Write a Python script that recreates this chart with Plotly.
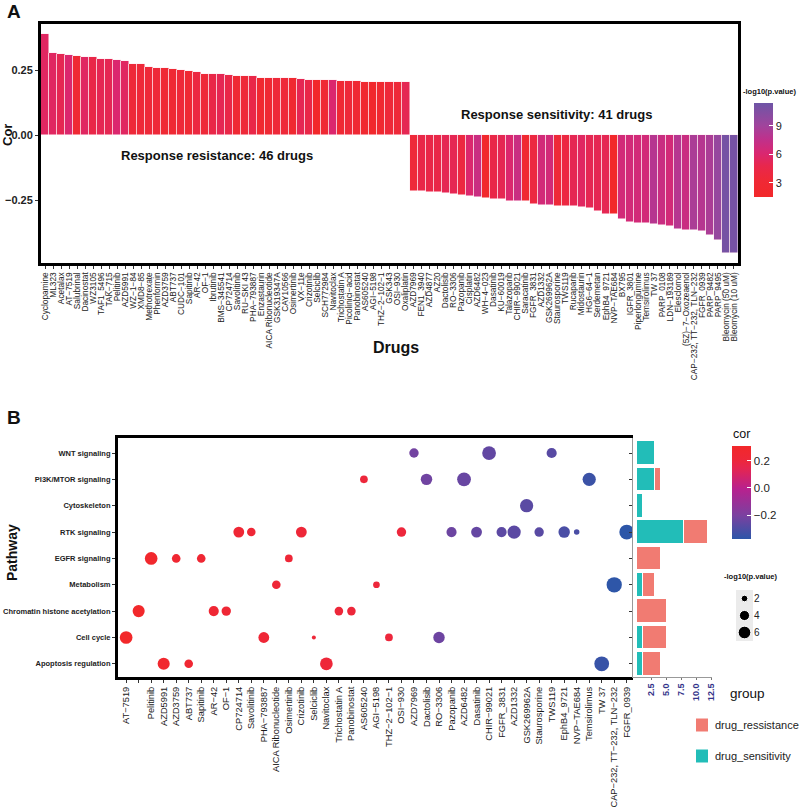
import numpy as np
import plotly.graph_objects as go

W, H = 800, 808
FONT = "Arial, 'Liberation Sans', Helvetica, sans-serif"

# ---------------- Panel A data ----------------
res_drugs = ["Cyclopamine", "ML323", "Acetalax", "AT-7519", "Salubrinal", "Dacinostat", "WZ3105",
             "TAF1_5496", "TAK-715", "Pelitinib", "AZD5991", "WZ-1-84", "XMD8-85", "Methotrexate",
             "Phenformin", "AZD3759", "ABT737", "CUDC-101", "Sapitinib", "AR-42", "OF-1", "Ibrutinib",
             "BMS-345541", "CP724714", "Savolitinib", "RU-SKI 43", "PHA-793887", "Enzastaurin",
             "AICA Ribonucleotide", "GSK319347A", "CAY10566", "Osimertinib", "VX-11e", "Crizotinib",
             "Selciclib", "SCH772984", "Navitoclax", "Trichostatin A", "Picolinici-acid", "Panobinostat",
             "AS605240", "AGI-5198", "THZ-2-102-1", "GSK343", "OSI-930", "Oxaliplatin"]
res_cor = [0.388, 0.317, 0.310, 0.309, 0.306, 0.300, 0.299, 0.292, 0.292, 0.288, 0.285, 0.274,
           0.272, 0.263, 0.259, 0.258, 0.254, 0.250, 0.245, 0.242, 0.236, 0.235, 0.235, 0.232,
           0.228, 0.227, 0.227, 0.221, 0.221, 0.219, 0.218, 0.218, 0.215, 0.214, 0.214, 0.213,
           0.212, 0.210, 0.210, 0.208, 0.206, 0.205, 0.204, 0.204, 0.203, 0.203]
res_logp = [5.5, 5.5, 5.0, 6.0, 3.0, 5.5, 4.5, 5.0, 5.0, 6.0, 5.5, 3.5, 3.5, 3.5, 3.5, 3.0, 3.0,
            3.5, 3.0, 4.0, 3.5, 4.5, 5.0, 4.5, 3.0, 3.5, 4.5, 2.5, 3.0, 3.5, 3.5, 2.5, 5.0, 4.5,
            1.0, 3.0, 6.0, 3.0, 3.5, 3.0, 2.5, 2.0, 2.5, 3.5, 3.5, 5.0]

sen_drugs = ["AZD7969", "FEN1_3940", "AZD4877", "AZ20", "Dactolisib", "RO-3306", "Pazopanib",
             "Cisplatin", "AZD6482", "WH-4-023", "Dasatinib", "KU-60019", "Talazoparib", "CHIR-99021",
             "Saracatinib", "FGFR_3831", "AZD1332", "GSK269962A", "Staurosporine", "TWS119",
             "Rucaparib", "Midostaurin", "HG6-64-1", "Serdemetan", "EphB4_9721", "NVP-TAE684",
             "BX795", "IGFR_3801", "Piperlongumine", "Temsirolimus", "TW 37", "PARP_0108",
             "LDN-193189", "Elesclomol", "(5Z)-7-Oxozeaenol", "CAP-232, TT-232, TLN-232",
             "FGFR_0939", "PARP_9482", "PARP_9495", "Bleomycin (50 uM)", "Bleomycin (10 uM)"]
sen_cor = [-0.214, -0.214, -0.217, -0.219, -0.221, -0.226, -0.229, -0.232, -0.238, -0.240,
           -0.244, -0.246, -0.251, -0.251, -0.253, -0.264, -0.267, -0.268, -0.271, -0.272,
           -0.272, -0.274, -0.279, -0.291, -0.303, -0.303, -0.323, -0.332, -0.335, -0.336,
           -0.342, -0.346, -0.349, -0.358, -0.363, -0.364, -0.368, -0.382, -0.400, -0.453, -0.453]
sen_logp = [3.5, 4.5, 4.5, 4.5, 5.0, 5.0, 4.0, 6.0, 7.0, 2.0, 4.5, 5.0, 6.0, 7.0, 2.5, 4.0,
            6.5, 6.5, 3.5, 4.0, 5.0, 5.5, 5.0, 5.0, 5.0, 1.5, 6.5, 6.5, 6.5, 6.5, 8.0, 7.0,
            6.5, 8.0, 7.0, 8.5, 8.0, 8.5, 9.5, 11.0, 11.0]

a_drugs = res_drugs + sen_drugs
a_cor = res_cor + sen_cor
a_logp = res_logp + sen_logp
cor_of = dict(zip(a_drugs, a_cor))
logp_of = dict(zip(a_drugs, a_logp))

# ---------------- Panel B data ----------------
pathways = ["WNT signaling", "PI3K/MTOR signaling", "Cytoskeleton", "RTK signaling",
            "EGFR signaling", "Metabolism", "Chromatin histone acetylation", "Cell cycle",
            "Apoptosis regulation"]
b_drugs = ["AT-7519", "Dacinostat", "Pelitinib", "AZD5991", "AZD3759", "ABT737", "Sapitinib",
           "AR-42", "OF-1", "CP724714", "Savolitinib", "PHA-793887", "AICA Ribonucleotide",
           "Osimertinib", "Crizotinib", "Selciclib", "Navitoclax", "Trichostatin A", "Panobinostat",
           "AS605240", "AGI-5198", "THZ-2-102-1", "OSI-930", "AZD7969", "Dactolisib", "RO-3306",
           "Pazopanib", "AZD6482", "Dasatinib", "CHIR-99021", "FGFR_3831", "AZD1332", "GSK269962A",
           "Staurosporine", "TWS119", "EphB4_9721", "NVP-TAE684", "Temsirolimus", "TW 37",
           "CAP-232, TT-232, TLN-232", "FGFR_0939"]
b_unlabeled = ["Dacinostat"]
b_pathway = ["Cell cycle", "Chromatin histone acetylation", "EGFR signaling", "Apoptosis regulation",
             "EGFR signaling", "Apoptosis regulation", "EGFR signaling",
             "Chromatin histone acetylation", "Chromatin histone acetylation", "RTK signaling",
             "RTK signaling", "Cell cycle", "Metabolism", "EGFR signaling", "RTK signaling",
             "Cell cycle", "Apoptosis regulation", "Chromatin histone acetylation",
             "Chromatin histone acetylation", "PI3K/MTOR signaling", "Metabolism", "Cell cycle",
             "RTK signaling", "WNT signaling", "PI3K/MTOR signaling", "Cell cycle", "RTK signaling",
             "PI3K/MTOR signaling", "RTK signaling", "WNT signaling", "RTK signaling", "RTK signaling",
             "Cytoskeleton", "RTK signaling", "WNT signaling", "RTK signaling", "RTK signaling",
             "PI3K/MTOR signaling", "Apoptosis regulation", "Metabolism", "RTK signaling"]
b_cor = [cor_of[d] for d in b_drugs]
b_logp = [logp_of[d] for d in b_drugs]
b_group = ["drug_ressistance" if c > 0 else "drug_sensitivity" for c in b_cor]

size_keys = [2, 4, 6]
bar_ticks = [2.5, 5.0, 7.5, 10.0, 12.5]

group_colors = {"drug_ressistance": "#F17B72", "drug_sensitivity": "#22BDB8"}
logp_scale = [[0, "#F2282A"], [0.18, "#EF2936"], [0.33, "#E8274C"], [0.46, "#DA2770"],
              [0.62, "#BE318C"], [0.76, "#A0449C"], [1, "#6E55A6"]]
cor_scale = [[0, "#2C56A8"], [0.25, "#7A41A0"], [0.54, "#B8218E"], [0.76, "#E52550"],
             [0.86, "#EE2738"], [1, "#F2282A"]]


def dot_px(v):
    v = np.asarray(v, dtype=float)
    return np.sqrt(np.maximum(45 + 29 * (v - 2), 12))


def disp(s):
    return s.replace("-", "\u2212")


def fx(px):
    return px / W


def fy(py):
    return 1 - py / H


fig = go.Figure()

# Panel A bars
fig.add_trace(go.Bar(
    x=a_drugs, y=a_cor, width=1.0,
    marker=dict(color=a_logp, coloraxis="coloraxis",
                line=dict(color="rgba(255,235,240,0.9)", width=0.6)),
    xaxis="x", yaxis="y", showlegend=False))

# Panel B dots
fig.add_trace(go.Scatter(
    x=b_drugs, y=b_pathway, mode="markers",
    marker=dict(size=dot_px(b_logp), color=b_cor, coloraxis="coloraxis2", opacity=1,
                line=dict(width=0)),
    xaxis="x2", yaxis="y2", showlegend=False))

# Panel B side bars (counts by pathway and group)
for g in ["drug_sensitivity", "drug_ressistance"]:
    counts = [sum(1 for p, gg in zip(b_pathway, b_group) if p == pw and gg == g) for pw in pathways]
    fig.add_trace(go.Bar(
        y=pathways, x=counts, orientation="h", width=0.9,
        marker=dict(color=group_colors[g], line=dict(color="white", width=1)),
        xaxis="x3", yaxis="y3", showlegend=False))

# size legend keys
fig.add_trace(go.Scatter(
    x=[0] * len(size_keys), y=size_keys, mode="markers",
    marker=dict(size=dot_px(size_keys), color="black", opacity=1),
    xaxis="x4", yaxis="y4", showlegend=False, hoverinfo="skip"))

path_order_bottom_up = pathways[::-1]
ylo, yhi = -0.5, len(pathways) - 1 + 0.57

fig.update_layout(
    width=W, height=H, margin=dict(l=0, r=0, t=0, b=0, autoexpand=False),
    paper_bgcolor="white", plot_bgcolor="white",
    font=dict(family=FONT, color="#1a1a1a"),
    barmode="stack", bargap=0,
    showlegend=False,
    xaxis=dict(domain=[fx(41), fx(738)], anchor="y", type="category", categoryarray=a_drugs,
               range=[-0.5, len(a_drugs) - 0.5],
               tickvals=a_drugs, ticktext=[disp(d) for d in a_drugs], tickangle=-90,
               tickfont=dict(size=8.3, color="#1a1a1a"), ticks="outside", ticklen=3,
               tickcolor="#333", showline=True, mirror=True, linewidth=3, linecolor="black",
               showgrid=False, zeroline=False),
    yaxis=dict(domain=[fy(263), fy(24)], anchor="x", range=[-0.49, 0.427],
               tickvals=[-0.25, 0, 0.25], ticktext=["\u22120.25", "0.00", "0.25"],
               tickfont=dict(size=11, color="#222", weight="bold"), ticks="outside", ticklen=3,
               tickcolor="#333", showline=True, mirror=True, linewidth=3, linecolor="black",
               showgrid=False, zeroline=False),
    xaxis2=dict(domain=[fx(118), fx(633)], anchor="y2", type="category", categoryarray=b_drugs,
                range=[-0.65, len(b_drugs) - 0.5],
                tickvals=b_drugs,
                ticktext=["" if d in b_unlabeled else disp(d) for d in b_drugs],
                tickangle=-90, tickfont=dict(size=9.3, color="#1a1a1a"), ticks="outside",
                ticklen=3, tickcolor="#333", showline=True, mirror=True, linewidth=3,
                linecolor="black", showgrid=False, zeroline=False),
    yaxis2=dict(domain=[fy(677), fy(438)], anchor="x2", type="category",
                categoryarray=path_order_bottom_up,
                range=[ylo, yhi], tickfont=dict(size=7.5, color="#222", weight="bold"),
                ticks="outside", ticklen=3, tickcolor="#333", showline=True, linewidth=3,
                linecolor="black", showgrid=False, zeroline=False),
    xaxis3=dict(domain=[fx(633), fx(712)], anchor="y3", range=[-0.6, 12.6], tickvals=bar_ticks,
                ticktext=[f"{t:.1f}" for t in bar_ticks], tickangle=-90,
                tickfont=dict(size=9, color="#34348A", weight="bold"), ticks="outside",
                ticklen=2, tickcolor="#777", showline=True, linewidth=1, linecolor="#999",
                showgrid=False, zeroline=False),
    yaxis3=dict(domain=[fy(677), fy(438)], anchor="x3", type="category",
                categoryarray=path_order_bottom_up,
                range=[ylo, yhi], showticklabels=False, ticks="outside", ticklen=3,
                tickcolor="#333", showline=True, linewidth=1, linecolor="#999",
                showgrid=False, zeroline=False),
    xaxis4=dict(domain=[fx(736), fx(753)], anchor="y4", range=[-1, 1], visible=False),
    yaxis4=dict(domain=[fy(641), fy(590)], anchor="x4", range=[7, 1], side="right",
                tickvals=size_keys, ticktext=[str(k) for k in size_keys],
                tickfont=dict(size=10, color="#222"), ticks="", showline=False,
                showgrid=False, zeroline=False),
    coloraxis=dict(colorscale=logp_scale, cmin=1.5, cmax=11.4,
                   colorbar=dict(x=fx(754), xanchor="left", y=fy(150), yanchor="middle",
                                 len=94 / H, lenmode="fraction", thickness=19, xpad=0, ypad=0,
                                 outlinewidth=0, tickvals=[3, 6, 9], ticks="inside",
                                 tickcolor="white", ticklen=4,
                                 tickfont=dict(size=11, color="#222"))),
    coloraxis2=dict(colorscale=cor_scale, cmin=-0.368, cmax=0.309,
                    colorbar=dict(x=fx(732), xanchor="left", y=fy(492), yanchor="middle",
                                  len=93 / H, lenmode="fraction", thickness=19, xpad=0, ypad=0,
                                  outlinewidth=0, tickvals=[-0.2, 0, 0.2],
                                  ticktext=["\u22120.2", "0.0", "0.2"], ticks="inside",
                                  tickcolor="white", ticklen=4,
                                  tickfont=dict(size=11.5, color="#222"))),
)

# grey background of the size legend
fig.add_shape(type="rect", xref="x4 domain", yref="y4 domain", x0=0, x1=1, y0=0, y1=1,
              fillcolor="#EBEBEB", line=dict(width=0), layer="below")

ann = []


def text(x, y, s, size, bold=False, angle=0, xanchor="center", color="#111"):
    ann.append(dict(x=fx(x), y=fy(y), xref="paper", yref="paper", text=s, showarrow=False,
                    textangle=angle, xanchor=xanchor, yanchor="middle",
                    font=dict(size=size, family=FONT, color=color,
                              weight="bold" if bold else "normal")))


text(5, 11, "A", 19, bold=True, xanchor="left")
text(5, 417, "B", 19, bold=True, xanchor="left")
text(7, 135, "Cor", 13, bold=True, angle=-90)
text(396, 347, "Drugs", 16, bold=True)
text(217, 156, "Response resistance: 46 drugs", 13, bold=True)
text(556, 114, "Response sensitivity: 41 drugs", 13, bold=True)
text(769, 92, "-log10(p.value)", 7.5, bold=True)
text(12, 553, "Pathway", 14, bold=True, angle=-90)
text(741, 434, "cor", 12.5)
text(750, 576, "-log10(p.value)", 7.5, bold=True)
text(747, 693, "group", 13.5)

# group legend
legend_rows = [("drug_ressistance", 725), ("drug_sensitivity", 756)]
for name, yy in legend_rows:
    fig.add_shape(type="rect", xref="paper", yref="paper", x0=fx(696), x1=fx(708),
                  y0=fy(yy + 6.5), y1=fy(yy - 6.5), fillcolor=group_colors[name],
                  line=dict(width=0))
    text(713, yy, name, 11, xanchor="left", color="#222")

fig.update_layout(annotations=ann)
fig.write_html("out.html", config={"displayModeBar": False},
               post_script="document.body.style.margin='0px';document.body.style.overflow='hidden';")
